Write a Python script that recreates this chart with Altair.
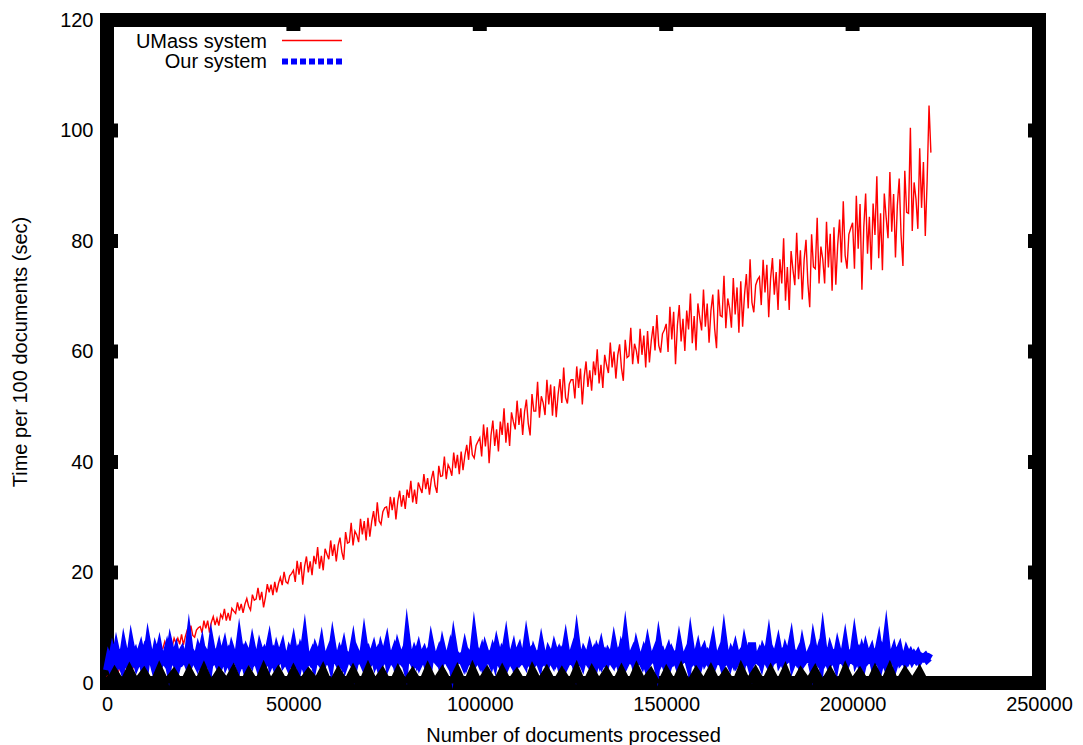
import altair as alt
import pandas as pd

FONT = "Liberation Sans"

# Sampling of the curves (documents processed)
RED_STEP = 500
BLUE_STEP = 500
BLACK_STEP = 2000

# UMass system: time per 100 documents (sec)
umass = [
    1.3, 0.6, 2.0, 1.2, 2.1, 0.8, 2.0, 2.7, 1.8, 2.5,
    1.8, 3.1, 2.8, 3.9, 2.8, 3.7, 2.8, 4.3, 4.1, 3.9,
    5.3, 4.5, 5.3, 4.4, 5.4, 6.0, 5.2, 4.8, 6.6, 6.1,
    6.3, 7.5, 6.3, 7.1, 7.0, 6.6, 8.1, 7.2, 8.1, 7.0,
    8.8, 6.9, 8.4, 9.5, 8.1, 10.4, 8.6, 8.3, 9.6, 10.0,
    10.2, 9.1, 11.3, 9.9, 11.3, 9.1, 11.0, 12.0, 10.5, 11.7,
    10.4, 12.4, 11.7, 13.4, 11.3, 12.7, 11.3, 13.5, 13.0, 12.6,
    14.6, 13.1, 14.3, 12.7, 14.3, 15.3, 13.9, 13.2, 16.0, 15.0,
    15.2, 17.2, 15.0, 16.5, 13.7, 15.5, 17.9, 16.4, 17.8, 15.9,
    18.3, 16.4, 18.0, 19.1, 17.7, 20.1, 18.3, 18.0, 19.4, 19.8,
    20.4, 18.3, 22.1, 19.6, 21.9, 17.8, 21.1, 22.9, 20.0, 22.0,
    19.5, 23.0, 21.5, 24.6, 20.7, 23.0, 20.4, 24.3, 23.3, 22.4,
    25.8, 23.0, 25.1, 22.0, 24.9, 26.3, 23.7, 22.3, 27.3, 25.3,
    25.5, 29.0, 24.9, 27.5, 26.8, 25.5, 29.7, 26.9, 29.3, 25.8,
    29.9, 26.5, 29.2, 31.1, 28.4, 32.7, 29.3, 28.7, 31.0, 31.7,
    31.9, 29.9, 33.7, 31.3, 33.6, 29.6, 32.9, 34.8, 31.9, 34.0,
    31.5, 35.0, 33.5, 36.6, 32.7, 35.0, 32.4, 36.3, 35.3, 34.4,
    37.8, 35.1, 37.1, 34.1, 36.9, 38.4, 35.7, 34.4, 39.3, 37.4,
    37.5, 41.0, 36.9, 39.5, 38.8, 37.5, 41.7, 38.9, 41.3, 37.8,
    41.9, 38.5, 41.2, 43.1, 40.4, 44.7, 41.3, 40.7, 43.0, 43.7,
    44.4, 41.0, 46.8, 42.8, 46.3, 39.8, 44.8, 47.5, 42.9, 45.9,
    41.9, 47.3, 44.9, 49.7, 43.5, 47.1, 42.9, 49.0, 47.3, 45.9,
    51.1, 46.7, 49.7, 44.9, 49.1, 51.3, 47.0, 44.8, 52.3, 49.2,
    49.2, 54.5, 48.0, 51.9, 50.7, 48.5, 54.9, 50.4, 54.0, 48.4,
    53.7, 48.1, 52.2, 55.0, 50.7, 57.1, 51.7, 50.6, 54.1, 54.9,
    54.9, 51.5, 57.3, 53.4, 56.9, 50.4, 55.4, 58.2, 53.6, 56.6,
    52.9, 58.2, 55.7, 60.4, 54.2, 57.6, 53.4, 59.4, 57.6, 56.1,
    61.6, 57.1, 60.0, 55.1, 59.3, 61.3, 57.0, 54.7, 62.1, 58.9,
    59.2, 64.3, 57.7, 61.4, 60.1, 57.8, 64.1, 59.4, 62.9, 57.1,
    63.7, 58.0, 62.0, 64.6, 60.2, 66.6, 61.1, 59.8, 63.2, 63.9,
    65.0, 59.9, 68.1, 62.2, 67.2, 57.7, 64.7, 68.4, 61.8, 65.9,
    60.1, 67.4, 64.0, 70.5, 61.5, 66.4, 60.2, 68.7, 66.1, 63.8,
    71.2, 64.5, 68.7, 61.6, 67.4, 70.3, 64.1, 60.6, 71.2, 66.5,
    66.3, 73.7, 64.2, 69.6, 67.8, 64.3, 73.3, 66.7, 71.6, 63.4,
    72.7, 64.5, 70.2, 74.0, 67.8, 76.7, 68.9, 67.1, 72.0, 73.0,
    73.5, 68.4, 76.6, 70.7, 75.7, 66.2, 73.2, 76.9, 70.3, 74.4,
    67.5, 76.7, 72.3, 80.5, 69.2, 75.3, 67.5, 78.2, 74.8, 72.0,
    81.5, 73.1, 78.3, 69.4, 76.6, 80.2, 72.4, 68.0, 81.2, 75.3,
    75.0, 84.2, 72.3, 79.0, 76.7, 72.3, 83.5, 75.2, 81.3, 71.0,
    82.5, 72.1, 79.3, 83.9, 76.1, 87.2, 77.4, 75.0, 81.2, 82.3,
    83.3, 75.0, 88.2, 78.6, 86.7, 71.2, 82.5, 88.6, 77.7, 84.4,
    74.8, 86.8, 81.1, 91.7, 76.9, 85.0, 74.7, 88.6, 84.3, 80.5,
    92.5, 81.7, 88.5, 77.0, 86.4, 91.3, 81.1, 75.5, 92.7, 85.2,
    85.0, 100.5, 81.8, 90.6, 87.6, 82.2, 96.8, 86.0, 94.3, 80.9,
    91.0, 104.5, 96.0,
]

# Our system
ours = [
    2.3, 4.0, 3.1, 4.9, 3.6, 5.5, 3.9, 4.6, 3.5, 5.8,
    4.1, 4.7, 3.6, 6.1, 4.3, 5.0, 3.7, 4.5, 5.6, 4.0,
    5.1, 3.8, 6.3, 4.4, 4.8, 3.5, 5.3, 4.2, 5.7, 3.9,
    4.6, 4.1, 5.4, 3.7, 6.0, 4.5, 4.0, 5.2, 3.6, 4.9,
    5.5, 4.3, 4.7, 3.8, 6.7, 4.1, 5.0, 4.4, 3.7, 5.3,
    4.2, 5.8, 3.9, 5.1, 4.5, 3.6, 6.2, 4.3, 4.8, 4.0,
    5.4, 3.7, 4.6, 5.9, 4.1, 4.9, 3.8, 5.5, 4.4, 4.7,
    3.9, 6.5, 4.2, 5.0, 3.6, 5.3, 4.5, 4.0, 6.0, 4.3,
    4.8, 3.7, 5.6, 4.4, 5.1, 3.9, 4.6, 6.3, 4.1, 4.9,
    3.8, 5.4, 4.2, 4.7, 5.8, 4.0, 4.5, 3.7, 5.2, 4.4,
    6.1, 4.1, 4.9, 3.6, 5.3, 4.3, 6.8, 3.9, 4.7, 4.2,
    5.0, 3.8, 5.5, 4.6, 4.1, 5.9, 3.7, 4.8, 4.4, 5.3,
    4.0, 6.4, 4.3, 4.5, 3.8, 5.1, 4.2, 5.7, 3.9, 4.9,
    4.6, 4.1, 6.0, 3.7, 5.2, 4.4, 4.8, 4.0, 6.6, 4.3,
    5.1, 3.9, 4.5, 5.6, 4.1, 4.9, 3.6, 5.4, 4.2, 4.7,
    6.2, 4.0, 4.8, 4.3, 5.3, 3.8, 5.7, 4.5, 4.1, 5.0,
    3.7, 7.1, 4.4, 4.7, 4.0, 5.2, 4.3, 5.5, 3.9, 4.6,
    5.3, 4.2, 4.9, 3.7, 6.1, 4.4, 4.5, 4.1, 5.1, 3.8,
    5.8, 4.3, 4.6, 4.0, 5.4, 3.6, 6.3, 4.2, 4.8, 4.4,
    4.7, 3.9, 5.6, 4.1, 5.0, 4.5, 3.8, 6.9, 4.3, 4.9,
    4.1, 5.2, 3.7, 5.5, 4.4, 4.8, 4.0, 5.3, 4.2, 6.0,
    4.5, 3.8, 5.1, 4.3, 6.4, 3.9, 4.7, 4.1, 5.4, 3.6,
    4.9, 5.7, 4.2, 4.6, 4.0, 6.5, 4.4, 5.0, 3.7, 5.2,
    4.3, 4.8, 3.9, 5.9, 4.1, 4.5, 3.8, 5.3, 4.6, 4.0,
    5.6, 4.4, 5.1, 3.7, 4.9, 4.2, 6.2, 4.0, 4.7, 4.3,
    5.4, 3.9, 6.7, 4.1, 4.6, 3.8, 5.2, 4.5, 4.0, 5.5,
    4.2, 5.0, 3.7, 5.3, 4.4, 5.8, 4.1, 4.8, 3.9, 5.1,
    4.5, 4.0, 6.1, 4.3, 4.9, 3.6, 5.4, 4.2, 7.0, 4.1,
    4.8, 4.4, 5.2, 3.8, 5.7, 4.3, 4.6, 3.9, 5.1, 4.0,
    5.9, 4.1, 4.7, 4.4, 5.3, 3.7, 6.3, 4.2, 4.9, 3.9,
    4.6, 5.5, 4.0, 5.1, 4.3, 4.8, 3.8, 6.0, 4.1, 4.5,
    4.4, 5.2, 3.9, 6.6, 4.2, 4.7, 4.0, 5.4, 3.7, 5.0,
    5.7, 4.3, 4.9, 4.1, 4.5, 6.2, 3.9, 4.8, 4.4, 5.3,
    4.0, 6.8, 4.2, 4.6, 3.8, 5.1, 4.3, 5.6, 4.1, 4.7,
    5.2, 3.9, 6.0, 4.4, 4.9, 3.7, 7.3, 4.1, 4.5, 4.2,
    5.0, 4.0, 5.5, 4.7, 4.1, 6.4, 3.8, 5.1, 4.3, 4.6,
    6.1, 4.2, 4.8, 3.9, 5.4, 4.4, 4.7, 6.5, 4.0, 4.9,
    4.3, 5.1, 3.8, 5.8, 4.1, 4.6, 4.4, 5.2, 3.7, 6.3,
    4.5, 4.1, 5.3, 4.0, 6.9, 4.2, 4.8, 3.9, 5.5, 4.4,
    4.9, 3.8, 5.7, 4.3, 4.6, 4.1, 6.2, 4.0, 5.0, 4.5,
    4.2, 6.7, 4.4, 5.1, 3.9, 5.3, 4.1, 5.6, 4.3, 4.7,
    5.5, 4.0, 4.9, 4.4, 6.1, 3.8, 5.2, 4.3, 7.1, 4.1,
    4.8, 4.4, 5.4, 3.9, 5.0, 5.8, 4.2, 4.6, 4.0, 5.3,
    4.5, 5.1, 4.3, 4.9, 4.4, 5.0, 4.2, 4.7, 4.5, 4.8,
    4.3, 4.6, 4.4,
]

# Black band along the bottom of the plot
bottom_band = [
    0.8, 3.3, 1.1, 3.9, 1.3, 3.1, 0.9, 4.1, 1.2, 3.0,
    0.8, 3.6, 1.1, 4.1, 1.0, 3.1, 1.3, 3.7, 0.7, 3.3,
    1.0, 4.2, 1.2, 3.4, 0.9, 3.7, 1.1, 3.0, 1.3, 4.0,
    0.8, 3.3, 1.1, 3.7, 1.0, 4.2, 1.2, 3.2, 0.7, 3.6,
    1.1, 3.1, 0.9, 4.1, 1.3, 3.4, 1.0, 3.8, 0.8, 4.2,
    1.2, 3.3, 1.0, 3.7, 1.1, 3.0, 0.7, 4.0, 1.3, 3.5,
    0.9, 3.2, 1.1, 4.2, 0.8, 3.6, 1.2, 3.3, 1.0, 3.7,
    1.0, 4.1, 1.3, 3.1, 0.7, 3.5, 1.1, 4.1, 0.9, 3.3,
    1.2, 3.8, 1.1, 3.0, 0.8, 4.2, 1.3, 3.4, 1.0, 3.7,
    1.1, 4.0, 0.7, 3.2, 1.3, 3.6, 1.0, 3.3, 0.9, 4.1,
    1.2, 3.1, 0.8, 3.7, 1.1, 4.2, 1.0, 3.3, 1.3, 3.5,
    0.9,
]

x_ticks = [0, 50000, 100000, 150000, 200000, 250000]
y_ticks = [0, 20, 40, 60, 80, 100, 120]

W, H = 932, 663

red_df = pd.DataFrame({"docs": [i * RED_STEP for i in range(len(umass))], "time": umass})
blue_df = pd.DataFrame({"docs": [i * BLUE_STEP for i in range(len(ours))], "time": ours})
black_df = pd.DataFrame({"docs": [i * BLACK_STEP for i in range(len(bottom_band))], "time": bottom_band})
xt_df = pd.DataFrame({"docs": x_ticks})
yt_df = pd.DataFrame({"time": y_ticks})

xs = alt.Scale(domain=[0, 250000], nice=False, zero=False)
ys = alt.Scale(domain=[0, 120], nice=False, zero=False)

x_axis = alt.Axis(values=x_ticks, format="d", title="Number of documents processed",
                  labelPadding=11, titlePadding=11, labelFlush=False, labelOverlap=False)
y_axis = alt.Axis(values=y_ticks, format="d", title="Time per 100 documents (sec)",
                  labelPadding=14, titlePadding=29, labelFlush=False, labelOverlap=False)

X = alt.X("docs:Q", scale=xs, axis=x_axis)
Y = alt.Y("time:Q", scale=ys, axis=y_axis)

red_layer = alt.Chart(red_df).mark_line(color="#ff0000", strokeWidth=1.4).encode(x=X, y=Y)
blue_layer = alt.Chart(blue_df).mark_line(
    color="#0000ff", strokeWidth=8, strokeJoin="miter", strokeMiterLimit=10
).encode(x=X, y=Y)
black_layer = alt.Chart(black_df).mark_area(color="black", interpolate="linear").encode(x=X, y=Y)
zero_line = alt.Chart(yt_df).mark_rule(color="black", strokeWidth=1).encode(
    y=alt.Y("time:Q", scale=ys, axis=y_axis), x=alt.value(0), x2=alt.value(W)
).transform_filter(alt.datum.time == 0)

left_ticks = alt.Chart(yt_df).mark_rule(color="black", strokeWidth=14).encode(
    y=alt.Y("time:Q", scale=ys, axis=y_axis), x=alt.value(0), x2=alt.value(11))
right_ticks = alt.Chart(yt_df).mark_rule(color="black", strokeWidth=14).encode(
    y=alt.Y("time:Q", scale=ys, axis=y_axis), x=alt.value(W), x2=alt.value(W - 11))
top_ticks = alt.Chart(xt_df).mark_rule(color="black", strokeWidth=14).encode(
    x=alt.X("docs:Q", scale=xs, axis=x_axis), y=alt.value(0), y2=alt.value(11))

legend_names = ["UMass system", "Our system"]
leg1_text = alt.Chart().mark_text(align="right", baseline="middle", fontSize=20, font=FONT,
                                  color="black").encode(
    x=alt.value(160), y=alt.value(22), text=alt.value(legend_names[0]))
leg2_text = alt.Chart().mark_text(align="right", baseline="middle", fontSize=20, font=FONT,
                                  color="black").encode(
    x=alt.value(160), y=alt.value(42), text=alt.value(legend_names[1]))
leg1_line = alt.Chart().mark_rule(color="#ff0000", strokeWidth=1.3).encode(
    x=alt.value(175), x2=alt.value(235), y=alt.value(20.5))
leg2_line = alt.Chart().mark_rule(color="#0000ff", strokeWidth=6, strokeDash=[6, 3]).encode(
    x=alt.value(175), x2=alt.value(235), y=alt.value(41.5))

chart = alt.layer(
    red_layer, blue_layer, black_layer, zero_line,
    left_ticks, right_ticks, top_ticks,
    leg1_text, leg2_text, leg1_line, leg2_line,
).properties(
    width=W, height=H,
    autosize=alt.AutoSizeParams(type="none"),
    padding={"left": 107, "top": 20, "right": 1083 - 107 - W, "bottom": 745 - 20 - H},
    background="white",
).configure_view(
    stroke="black", strokeWidth=14, fill="white"
).configure_axis(
    domain=False, grid=False, ticks=False,
    labelFont=FONT, titleFont=FONT, labelFontSize=20, titleFontSize=20,
    titleFontWeight="normal", labelColor="black", titleColor="black",
)

chart.save("out.html", embed_options={"renderer": "svg", "actions": False})
